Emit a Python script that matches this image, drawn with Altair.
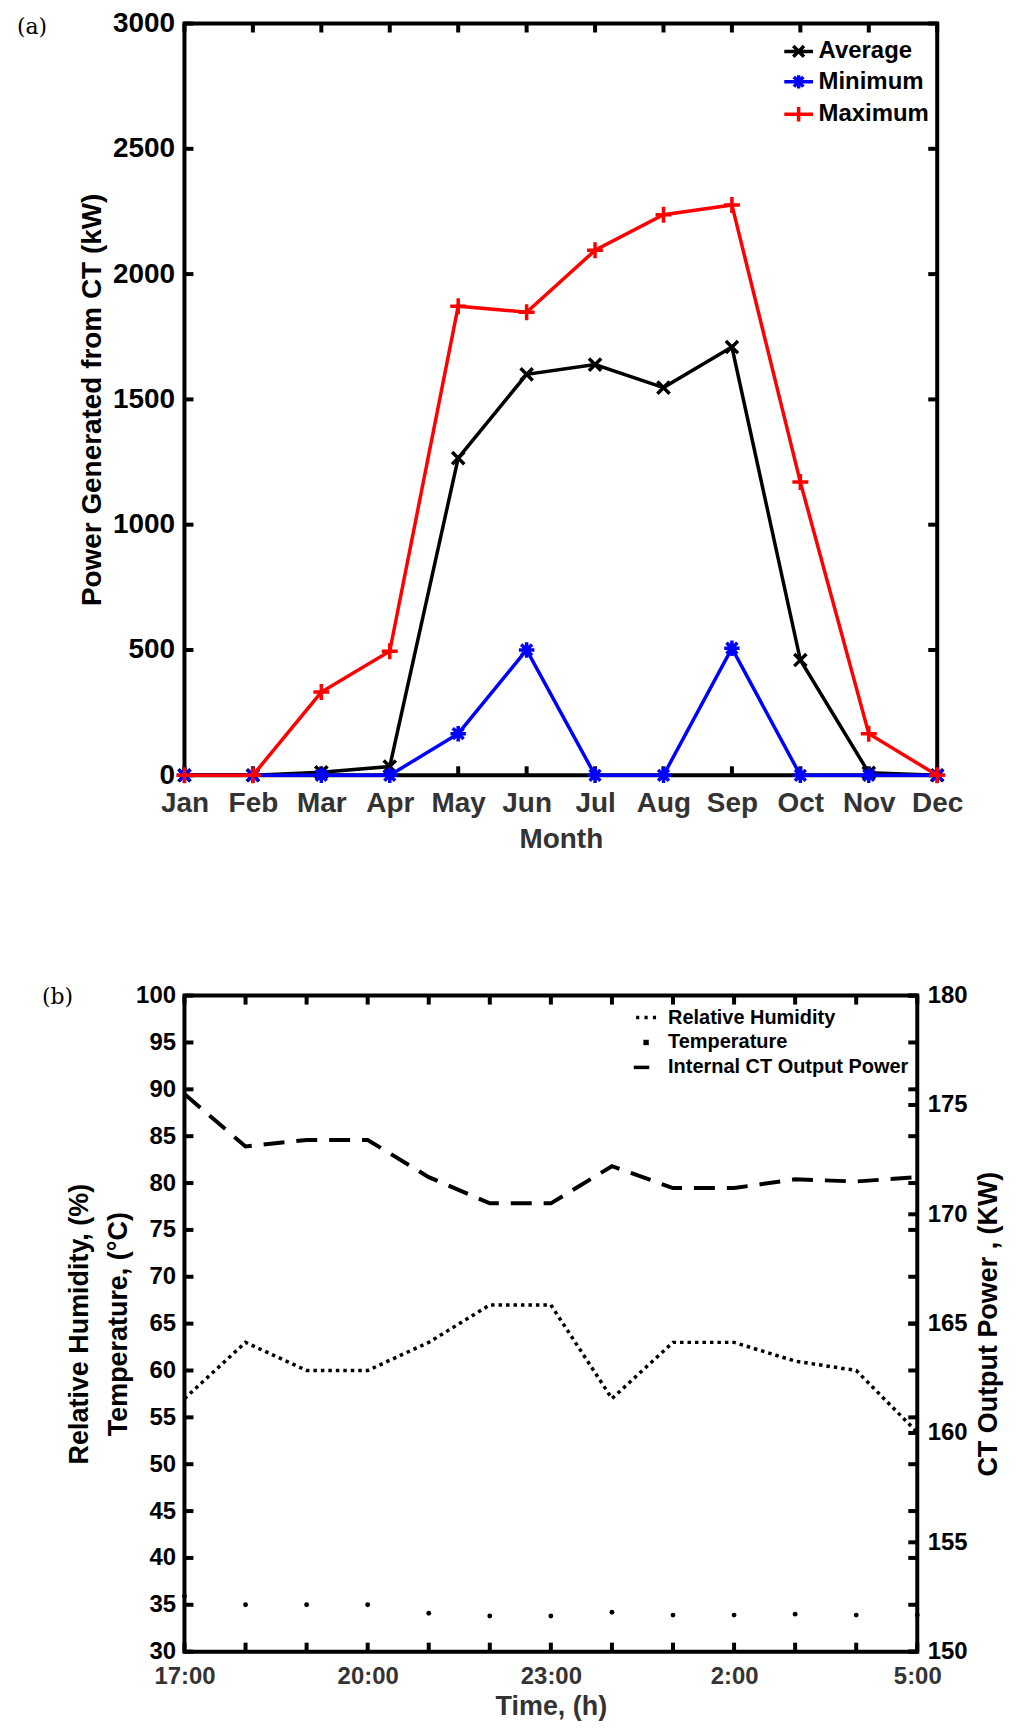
import altair as alt
import pandas as pd

# ---------------- data (a) ----------------
months = ["Jan", "Feb", "Mar", "Apr", "May", "Jun", "Jul", "Aug", "Sep", "Oct", "Nov", "Dec"]
average = [0, 0, 12, 35, 1266, 1600, 1639, 1547, 1709, 460, 10, 0]
minimum = [0, 0, 0, 0, 166, 500, 0, 0, 507, 0, 0, 0]
maximum = [0, 0, 332, 495, 1872, 1848, 2095, 2237, 2276, 1170, 166, 0]
power_ticks = [0, 500, 1000, 1500, 2000, 2500, 3000]
series_names = ["Average", "Minimum", "Maximum"]
series_colors = ["#000000", "#0000ff", "#ff0000"]

# ---------------- data (b) ----------------
times = ["17:00", "18:00", "19:00", "20:00", "21:00", "22:00", "23:00",
         "0:00", "1:00", "2:00", "3:00", "4:00", "5:00"]
time_label_values = ["17:00", "20:00", "23:00", "2:00", "5:00"]
humidity = [57, 63, 60, 60, 63, 67, 67, 57, 63, 63, 61, 60, 53.4]
temperature = [35.9, 35.0, 35.0, 35.0, 34.1, 33.8, 33.8, 34.2, 33.9, 33.9, 34.0, 33.9, 33.9]
ct_power = [175.5, 173.1, 173.4, 173.4, 171.7, 170.5, 170.5, 172.2, 171.2, 171.2, 171.6, 171.5, 171.7]
left_ticks = [30, 35, 40, 45, 50, 55, 60, 65, 70, 75, 80, 85, 90, 95, 100]
right_ticks = [150, 155, 160, 165, 170, 175, 180]
b_names = ["Relative Humidity", "Temperature", "Internal CT Output Power"]

FONT = "Liberation Sans"
GRAY = "#333333"
BOX = 4
TICK = 9
LW = 3.5

# ======================= chart (a) =======================
W_A, H_A = 755, 754
xs_a = alt.Scale(type="point", domain=months, padding=0)
ys_a = alt.Scale(domain=[0, 3000], nice=False, zero=False)

x_axis_a = alt.Axis(title="Month", labelFontSize=28, labelColor=GRAY, labelPadding=14,
                    labelAngle=0, labelFlush=False, labelOverlap=False, labelBound=False,
                    titleFontSize=28, titleColor=GRAY, titleX=W_A / 2, titleY=64,
                    titleBaseline="middle", titleAlign="center", tickSize=0)
y_axis_a = alt.Axis(values=power_ticks, format="d", title="Power Generated from CT (kW)",
                    labelFontSize=28, labelColor="black", labelPadding=10, labelFlush=False,
                    labelOverlap=False, titleFontSize=28, titleColor="black", titleAngle=270,
                    titleX=-92, titleY=H_A / 2, titleBaseline="middle", titleAlign="center",
                    tickSize=0)
X_A = alt.X("month:N", scale=xs_a, axis=x_axis_a, title="Month")
Y_A = dict(scale=ys_a, axis=y_axis_a, title="Power Generated from CT (kW)")

marker_paths = {
    "Average": "M-1,-1L1,1M-1,1L1,-1",
    "Minimum": "M-1,0L1,0M0,-1L0,1M-0.7,-0.7L0.7,0.7M-0.7,0.7L0.7,-0.7",
    "Maximum": "M-1,0L1,0M0,-1L0,1",
}
marker_sizes = {"Average": 150, "Minimum": 240, "Maximum": 256}
legend_paths_a = [
    "M-1.2,0L1.2,0M-0.45,-0.45L0.45,0.45M-0.45,0.45L0.45,-0.45",
    "M-1.2,0L1.2,0M0,-0.55L0,0.55M-0.4,-0.4L0.4,0.4M-0.4,0.4L0.4,-0.4",
    "M-1.2,0L1.2,0M0,-0.6L0,0.6",
]

layers_a = []
mt = pd.DataFrame({"month": months})
yt = pd.DataFrame({"value": power_ticks})
layers_a.append(alt.Chart(mt).mark_rule(color="black", strokeWidth=BOX).encode(
    x=X_A, y=alt.value(H_A), y2=alt.value(H_A - TICK)))
layers_a.append(alt.Chart(mt).mark_rule(color="black", strokeWidth=BOX).encode(
    x=X_A, y=alt.value(0), y2=alt.value(TICK)))
layers_a.append(alt.Chart(yt).mark_rule(color="black", strokeWidth=BOX).encode(
    y=alt.Y("value:Q", **Y_A), x=alt.value(0), x2=alt.value(TICK)))
layers_a.append(alt.Chart(yt).mark_rule(color="black", strokeWidth=BOX).encode(
    y=alt.Y("value:Q", **Y_A), x=alt.value(W_A), x2=alt.value(W_A - TICK)))

for name, vals, col in zip(series_names, [average, minimum, maximum], series_colors):
    d = pd.DataFrame({"month": months, "value": vals})
    layers_a.append(alt.Chart(d).mark_line(color=col, strokeWidth=LW).encode(
        x=X_A, y=alt.Y("value:Q", **Y_A)))
    layers_a.append(alt.Chart(d).mark_point(shape=marker_paths[name], size=marker_sizes[name],
                                            filled=False, color=col, strokeWidth=LW, opacity=1).encode(
        x=X_A, y=alt.Y("value:Q", **Y_A)))

leg_a = alt.Legend(title=None, orient="none", legendX=602, legendY=14, padding=0, rowPadding=3.5,
                   symbolSize=576, symbolStrokeWidth=LW, symbolOpacity=1, labelFont=FONT,
                   labelFontSize=24, labelFontWeight="bold", labelColor="black", labelOffset=6,
                   labelLimit=400)
layers_a.append(alt.Chart(pd.DataFrame({"series": series_names, "n": [1, 2, 3]}))
                .transform_filter("datum.n < 0")
                .mark_point(filled=False, strokeWidth=LW, size=576)
                .encode(color=alt.Color("series:N", scale=alt.Scale(domain=series_names, range=series_colors), legend=leg_a),
                        shape=alt.Shape("series:N", scale=alt.Scale(domain=series_names, range=legend_paths_a), legend=leg_a)))
layers_a.append(alt.Chart(pd.DataFrame({"t": ["(a)"]})).mark_text(
    font="DejaVu Serif", fontSize=22, align="left", baseline="middle", color="black").encode(
    x=alt.value(-168), y=alt.value(4), text="t:N"))

chart_a = alt.layer(*layers_a).properties(width=W_A, height=H_A)

# ======================= chart (b) =======================
W_B, H_B = 735, 658
xs_b = alt.Scale(type="point", domain=times, padding=0)
yl = alt.Scale(domain=[30, 100], nice=False, zero=False)
yr = alt.Scale(domain=[150, 180], nice=False, zero=False)

x_axis_b = alt.Axis(values=time_label_values, title="Time, (h)", labelFontSize=24, labelColor=GRAY,
                    labelPadding=13, labelAngle=0, labelFlush=False, labelOverlap=False,
                    labelBound=False, titleFontSize=27, titleColor=GRAY, titleX=W_B / 2, titleY=55,
                    titleBaseline="middle", titleAlign="center", tickSize=0)
X_B = alt.X("time:N", scale=xs_b, axis=x_axis_b, title="Time, (h)")
y_axis_l = alt.Axis(values=left_ticks, title=["Relative Humidity, (%)", "Temperature, (°C)"],
                    labelFontSize=24, labelColor="black", labelPadding=9, labelFlush=False,
                    labelOverlap=False, titleFontSize=27, titleColor="black", titleAngle=270,
                    titleX=-105, titleY=H_B / 2, titleBaseline="middle", titleAlign="center",
                    titleLineHeight=39, tickSize=0)
y_axis_r = alt.Axis(orient="right", values=right_ticks, title="CT Output Power , (KW)",
                    labelFontSize=24, labelColor="black", labelPadding=10, labelFlush=False,
                    labelOverlap=False, titleFontSize=27, titleColor="black", titleAngle=270,
                    titleX=71, titleY=H_B / 2, titleBaseline="middle", titleAlign="center",
                    tickSize=0)

tb = pd.DataFrame({"time": times})
lt = pd.DataFrame({"v": left_ticks})
rt = pd.DataFrame({"v": right_ticks})
db = pd.DataFrame({"time": times, "rh": humidity, "temp": temperature, "p": ct_power})

layers_b = [
    alt.Chart(tb).mark_rule(color="black", strokeWidth=BOX).encode(
        x=X_B, y=alt.value(H_B), y2=alt.value(H_B - TICK)),
    alt.Chart(tb).mark_rule(color="black", strokeWidth=BOX).encode(
        x=X_B, y=alt.value(0), y2=alt.value(TICK)),
    alt.Chart(lt).mark_rule(color="black", strokeWidth=BOX).encode(
        x=alt.value(0), x2=alt.value(TICK), y=alt.Y("v:Q", scale=yl, axis=None)),
    alt.Chart(lt).mark_rule(color="black", strokeWidth=BOX).encode(
        x=alt.value(W_B), x2=alt.value(W_B - TICK), y=alt.Y("v:Q", scale=yl, axis=None)),
    alt.Chart(rt).mark_rule(color="black", strokeWidth=BOX).encode(
        x=alt.value(W_B), x2=alt.value(W_B - TICK), y=alt.Y("v:Q", scale=yr, axis=None)),
    alt.Chart(db).mark_line(color="black", strokeWidth=3.5, strokeDash=[3.5, 4]).encode(
        x=X_B, y=alt.Y("rh:Q", scale=yl, axis=y_axis_l)),
    alt.Chart(db).mark_circle(color="black", size=24, opacity=1).encode(
        x=X_B, y=alt.Y("temp:Q", scale=yl, axis=None)),
    alt.Chart(db).mark_line(color="black", strokeWidth=4, strokeDash=[21, 12]).encode(
        x=X_B, y=alt.Y("p:Q", scale=yr, axis=y_axis_r)),
]

legend_paths_b = [
    "M-1.25,0L-0.85,0M-0.2,0L0.2,0M0.85,0L1.25,0",
    "M-0.12,-0.12L0.12,-0.12L0.12,0.12L-0.12,0.12Z",
    "M-1.55,0L0.4,0",
]
leg_b = alt.Legend(title=None, orient="none", legendX=453, legendY=12, padding=0, rowPadding=5,
                   symbolSize=256, symbolStrokeWidth=3.5, symbolOpacity=1,
                   symbolStrokeColor="black", symbolFillColor="black", labelFont=FONT,
                   labelFontSize=20, labelFontWeight="bold", labelColor="black", labelOffset=12,
                   labelLimit=400)
layers_b.append(alt.Chart(pd.DataFrame({"series": b_names, "n": [1, 2, 3]}))
                .transform_filter("datum.n < 0")
                .mark_point(filled=False, strokeWidth=3.5, size=256, color="black")
                .encode(shape=alt.Shape("series:N", scale=alt.Scale(domain=b_names, range=legend_paths_b), legend=leg_b)))
layers_b.append(alt.Chart(pd.DataFrame({"t": ["(b)"]})).mark_text(
    font="DejaVu Serif", fontSize=22, align="left", baseline="middle", color="black").encode(
    x=alt.value(-143), y=alt.value(1), text="t:N"))

chart_b = alt.layer(*layers_b).resolve_scale(y="independent").properties(width=W_B, height=H_B)

chart = alt.vconcat(chart_a, chart_b, spacing=221, bounds="flush").resolve_scale(
    color="independent", shape="independent"
).properties(
    padding={"left": 7, "top": -3, "right": 5, "bottom": 2},
    background="white",
).configure_view(stroke="black", strokeWidth=BOX).configure_axis(
    labelFont=FONT, titleFont=FONT, labelFontWeight="bold", titleFontWeight="bold",
    domain=False, ticks=False, grid=False,
)

chart.save("out.html", embed_options={"renderer": "svg", "actions": False})
